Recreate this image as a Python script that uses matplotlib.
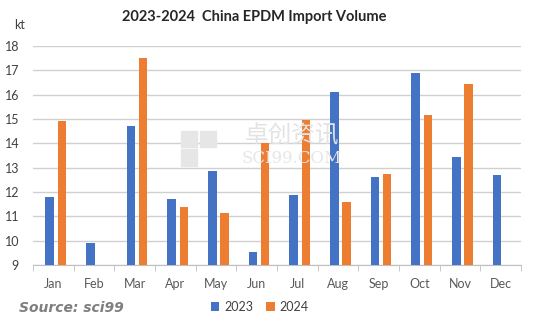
import matplotlib
matplotlib.use("Agg")
from matplotlib import pyplot as plt
from matplotlib.patches import Rectangle
import numpy as np

months = ['Jan', 'Feb', 'Mar', 'Apr', 'May', 'Jun', 'Jul', 'Aug', 'Sep', 'Oct', 'Nov', 'Dec']
vol_2023 = [11.8, 9.9, 14.7, 11.7, 12.85, 9.55, 11.9, 16.1, 12.6, 16.9, 13.45, 12.7]
vol_2024 = [14.92, np.nan, 17.5, 11.4, 11.15, 14.0, 14.97, 11.6, 12.75, 15.15, 16.45, np.nan]

plt.rcParams['font.family'] = ['Lato', 'DejaVu Sans']

fig = plt.figure(figsize=(5.41, 3.31), dpi=100)
ax = fig.add_axes([0.061, 0.199, 0.902, 0.662])

x = np.arange(len(months))
w = 0.21
ax.bar(x - 0.09, vol_2023, width=w, bottom=0, color='#4472C4', label='2023', zorder=3)
ax.bar(x + 0.21, vol_2024, width=w, bottom=0, color='#ED7D31', label='2024', zorder=3)

ax.set_ylim(9, 18)
ax.set_xlim(-0.5, 11.5)
ax.set_yticks(range(9, 19))
ax.set_xticks(x)
ax.set_xticklabels(months)
ax.set_xticks(np.arange(-0.5, 12, 1), minor=True)
ax.tick_params(axis='x', which='major', length=0, pad=9, labelsize=9, colors='#595959')
ax.tick_params(axis='x', which='minor', length=4, color='#bfbfbf')
ax.tick_params(axis='y', length=0, pad=10, labelsize=9, colors='#404040')

ax.grid(axis='y', color='#d0d0d0', linewidth=1, zorder=0)
for s in ['top', 'right', 'left']:
    ax.spines[s].set_visible(False)
ax.spines['bottom'].set_color('#bfbfbf')

fig.text(0.47, 0.948, '2023-2024  China EPDM Import Volume', ha='center', va='center',
         fontsize=10.5, fontweight='bold', color='#262626')
fig.text(0.026, 0.925, 'kt', ha='left', va='center', fontsize=9, color='#404040')

# faint watermark: logo blocks + name
for (lx, ly) in [(0.335, 0.555), (0.370, 0.555), (0.335, 0.500)]:
    fig.patches.append(Rectangle((lx, ly), 0.03, 0.05, transform=fig.transFigure,
                                 color='#e6e6e6', zorder=0))
fig.text(0.54, 0.59, '卓创资讯', ha='center', va='center', fontsize=17,
         family=['Noto Sans CJK SC', 'DejaVu Sans'], color='#e3e3e3', zorder=0)
fig.text(0.54, 0.52, 'SCI99.COM', ha='center', va='center', fontsize=12,
         family='DejaVu Serif', color='#e6e6e6', zorder=0)

fig.legend(loc='center', bbox_to_anchor=(0.48, 0.072), ncol=2, frameon=False,
           fontsize=9, handlelength=0.7, handleheight=0.7, columnspacing=1.0,
           handletextpad=0.4, labelcolor='#404040')

fig.text(0.035, 0.068, 'Source: sci99', ha='left', va='center', fontsize=10,
         fontweight='bold', fontstyle='italic', color='#7f7f7f', family='DejaVu Sans')

fig.savefig('out.png', dpi=100)
